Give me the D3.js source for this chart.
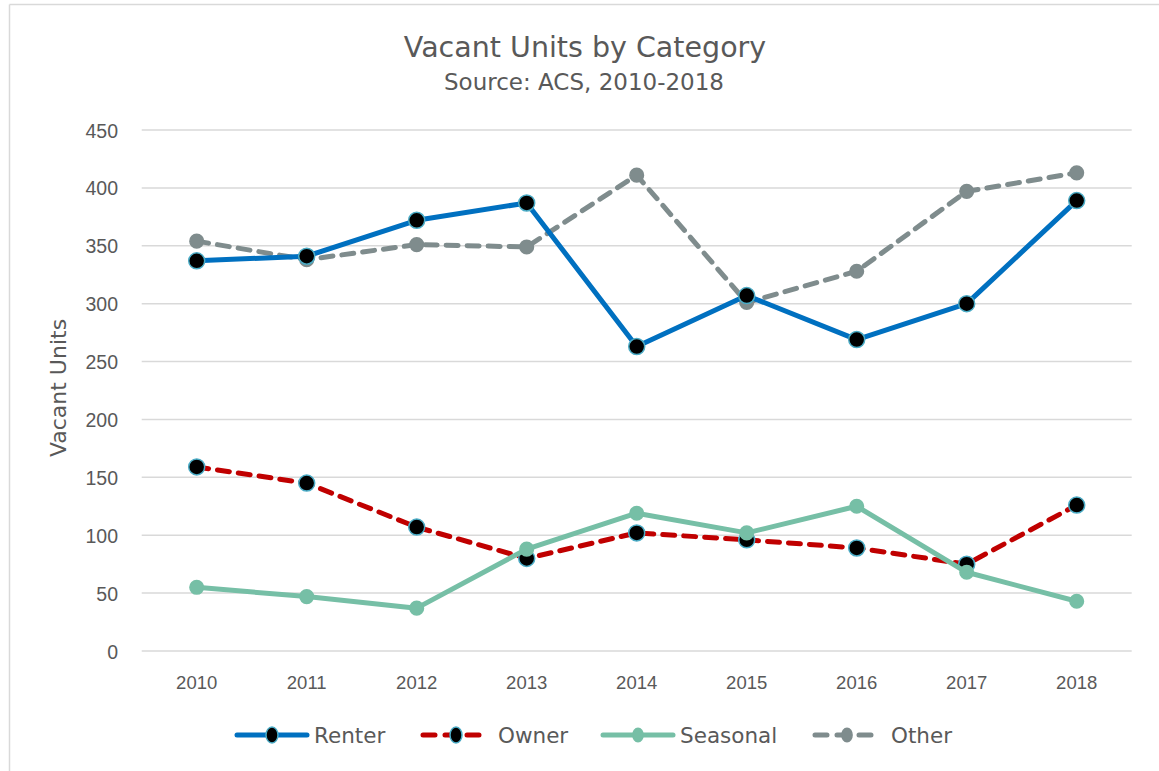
<!DOCTYPE html>
<html>
<head>
<meta charset="utf-8">
<script src="https://cdn.jsdelivr.net/npm/d3@7"></script>
<style>
  html, body { margin: 0; padding: 0; background: #fff; }
  svg { display: block; font-family: "DejaVu Sans", sans-serif; }
</style>
</head>
<body>
<svg id="chart" width="1159" height="771"></svg>
<script>
const years = ["2010","2011","2012","2013","2014","2015","2016","2017","2018"];
const renter = [337, 341, 372, 387, 263, 307, 269, 300, 389];
const owner = [159, 145, 107, 80, 102, 96, 89, 75, 126];
const seasonal = [55, 47, 37, 88, 119, 102, 125, 68, 43];
const other = [354, 338, 351, 349, 411, 301, 328, 397, 413];
const yTicks = [0, 50, 100, 150, 200, 250, 300, 350, 400, 450];
const seriesNames = ["Renter", "Owner", "Seasonal", "Other"];

const series = [
  { name: seriesNames[0], values: renter, color: "#0070C0", dash: null, markerFill: "#000", markerStroke: "#4BACC6", r: 8 },
  { name: seriesNames[1], values: owner, color: "#C00000", dash: "12,9", markerFill: "#000", markerStroke: "#4BACC6", r: 8 },
  { name: seriesNames[2], values: seasonal, color: "#76BFA6", dash: null, markerFill: "#76BFA6", markerStroke: "#76BFA6", r: 6.8 },
  { name: seriesNames[3], values: other, color: "#7F8C8D", dash: "12,9", markerFill: "#7F8C8D", markerStroke: "#7F8C8D", r: 6.8 }
];

const svg = d3.select("#chart");
const W = 1159, H = 771;
const margin = { left: 141.7, right: 1159 - 1131.7, top: 130, bottom: 771 - 651 };
const textColor = "#595959";

// border
svg.append("line").attr("x1", 9.5).attr("x2", W).attr("y1", 4.5).attr("y2", 4.5).attr("stroke", "#d9d9d9").attr("stroke-width", 1.5);
svg.append("line").attr("x1", 9.5).attr("x2", 9.5).attr("y1", 4.5).attr("y2", H).attr("stroke", "#d9d9d9").attr("stroke-width", 1.5);

const x = d3.scaleBand().domain(years).range([margin.left, W - margin.right]);
const y = d3.scaleLinear().domain([0, 450]).range([H - margin.bottom, margin.top]);

// gridlines
svg.append("g").selectAll("line").data(yTicks).join("line")
  .attr("x1", margin.left).attr("x2", W - margin.right)
  .attr("y1", d => y(d)).attr("y2", d => y(d))
  .attr("stroke", "#d9d9d9").attr("stroke-width", 1.5);

// y axis labels
const yAxis = d3.axisLeft(y).tickValues(yTicks).tickSize(0).tickPadding(0);
const gy = svg.append("g").attr("transform", `translate(118,0)`).call(yAxis);
gy.select(".domain").remove();
gy.selectAll("text").attr("font-size", 19.5).attr("fill", textColor).attr("font-family", "inherit").attr("dy", "0.36em");

// x axis labels
const xAxis = d3.axisBottom(x).tickSize(0).tickPadding(0);
const gx = svg.append("g").attr("transform", `translate(0,${H - margin.bottom + 25})`).call(xAxis);
gx.select(".domain").remove();
gx.selectAll("text").attr("font-size", 18.5).attr("fill", textColor).attr("font-family", "inherit").attr("dy", "0.71em");

// titles
svg.append("text").attr("x", 585).attr("y", 57).attr("text-anchor", "middle")
  .attr("font-size", 28.5).attr("fill", textColor).text("Vacant Units by Category");
svg.append("text").attr("x", 584).attr("y", 90).attr("text-anchor", "middle")
  .attr("font-size", 23).attr("fill", textColor).text("Source: ACS, 2010-2018");
svg.append("text").attr("transform", "translate(66,388) rotate(-90)").attr("text-anchor", "middle")
  .attr("font-size", 22).attr("fill", textColor).text("Vacant Units");

// lines
const line = d3.line().x((d, i) => x(years[i]) + x.bandwidth() / 2).y(d => y(d));
const drawOrder = [series[3], series[0], series[1], series[2]];
drawOrder.forEach(s => {
  svg.append("path").datum(s.values).attr("d", line)
    .attr("fill", "none").attr("stroke", s.color).attr("stroke-width", 5)
    .attr("stroke-linecap", s.dash ? "round" : "butt").attr("stroke-linejoin", "round")
    .attr("stroke-dasharray", s.dash);
  svg.append("g").selectAll("circle").data(s.values).join("circle")
    .attr("cx", (d, i) => x(years[i]) + x.bandwidth() / 2)
    .attr("cy", d => y(d))
    .attr("r", s.r)
    .attr("fill", s.markerFill).attr("stroke", s.markerStroke).attr("stroke-width", 1.5);
});

// legend
const legendItems = [
  { s: series[0], x0: 237, x1: 307, mx: 272, tx: 314 },
  { s: series[1], x0: 423, x1: 483, mx: 456, tx: 498 },
  { s: series[2], x0: 603, x1: 673, mx: 638, tx: 680 },
  { s: series[3], x0: 815, x1: 876, mx: 847, tx: 891 }
];
const ly = 735;
const lg = svg.append("g");
legendItems.forEach(it => {
  const s = it.s;
  lg.append("line").attr("x1", it.x0).attr("x2", it.x1).attr("y1", ly).attr("y2", ly)
    .attr("stroke", s.color).attr("stroke-width", 5).attr("stroke-linecap", "round")
    .attr("stroke-dasharray", s.dash ? "12,10" : null);
  lg.append("ellipse").attr("cx", it.mx).attr("cy", ly).attr("rx", s.r * 0.75).attr("ry", s.r)
    .attr("fill", s.markerFill).attr("stroke", s.markerStroke).attr("stroke-width", 1.5);
  lg.append("text").attr("x", it.tx).attr("y", ly).attr("dy", "0.36em")
    .attr("font-size", 21.5).attr("fill", textColor).text(s.name);
});
</script>
</body>
</html>
